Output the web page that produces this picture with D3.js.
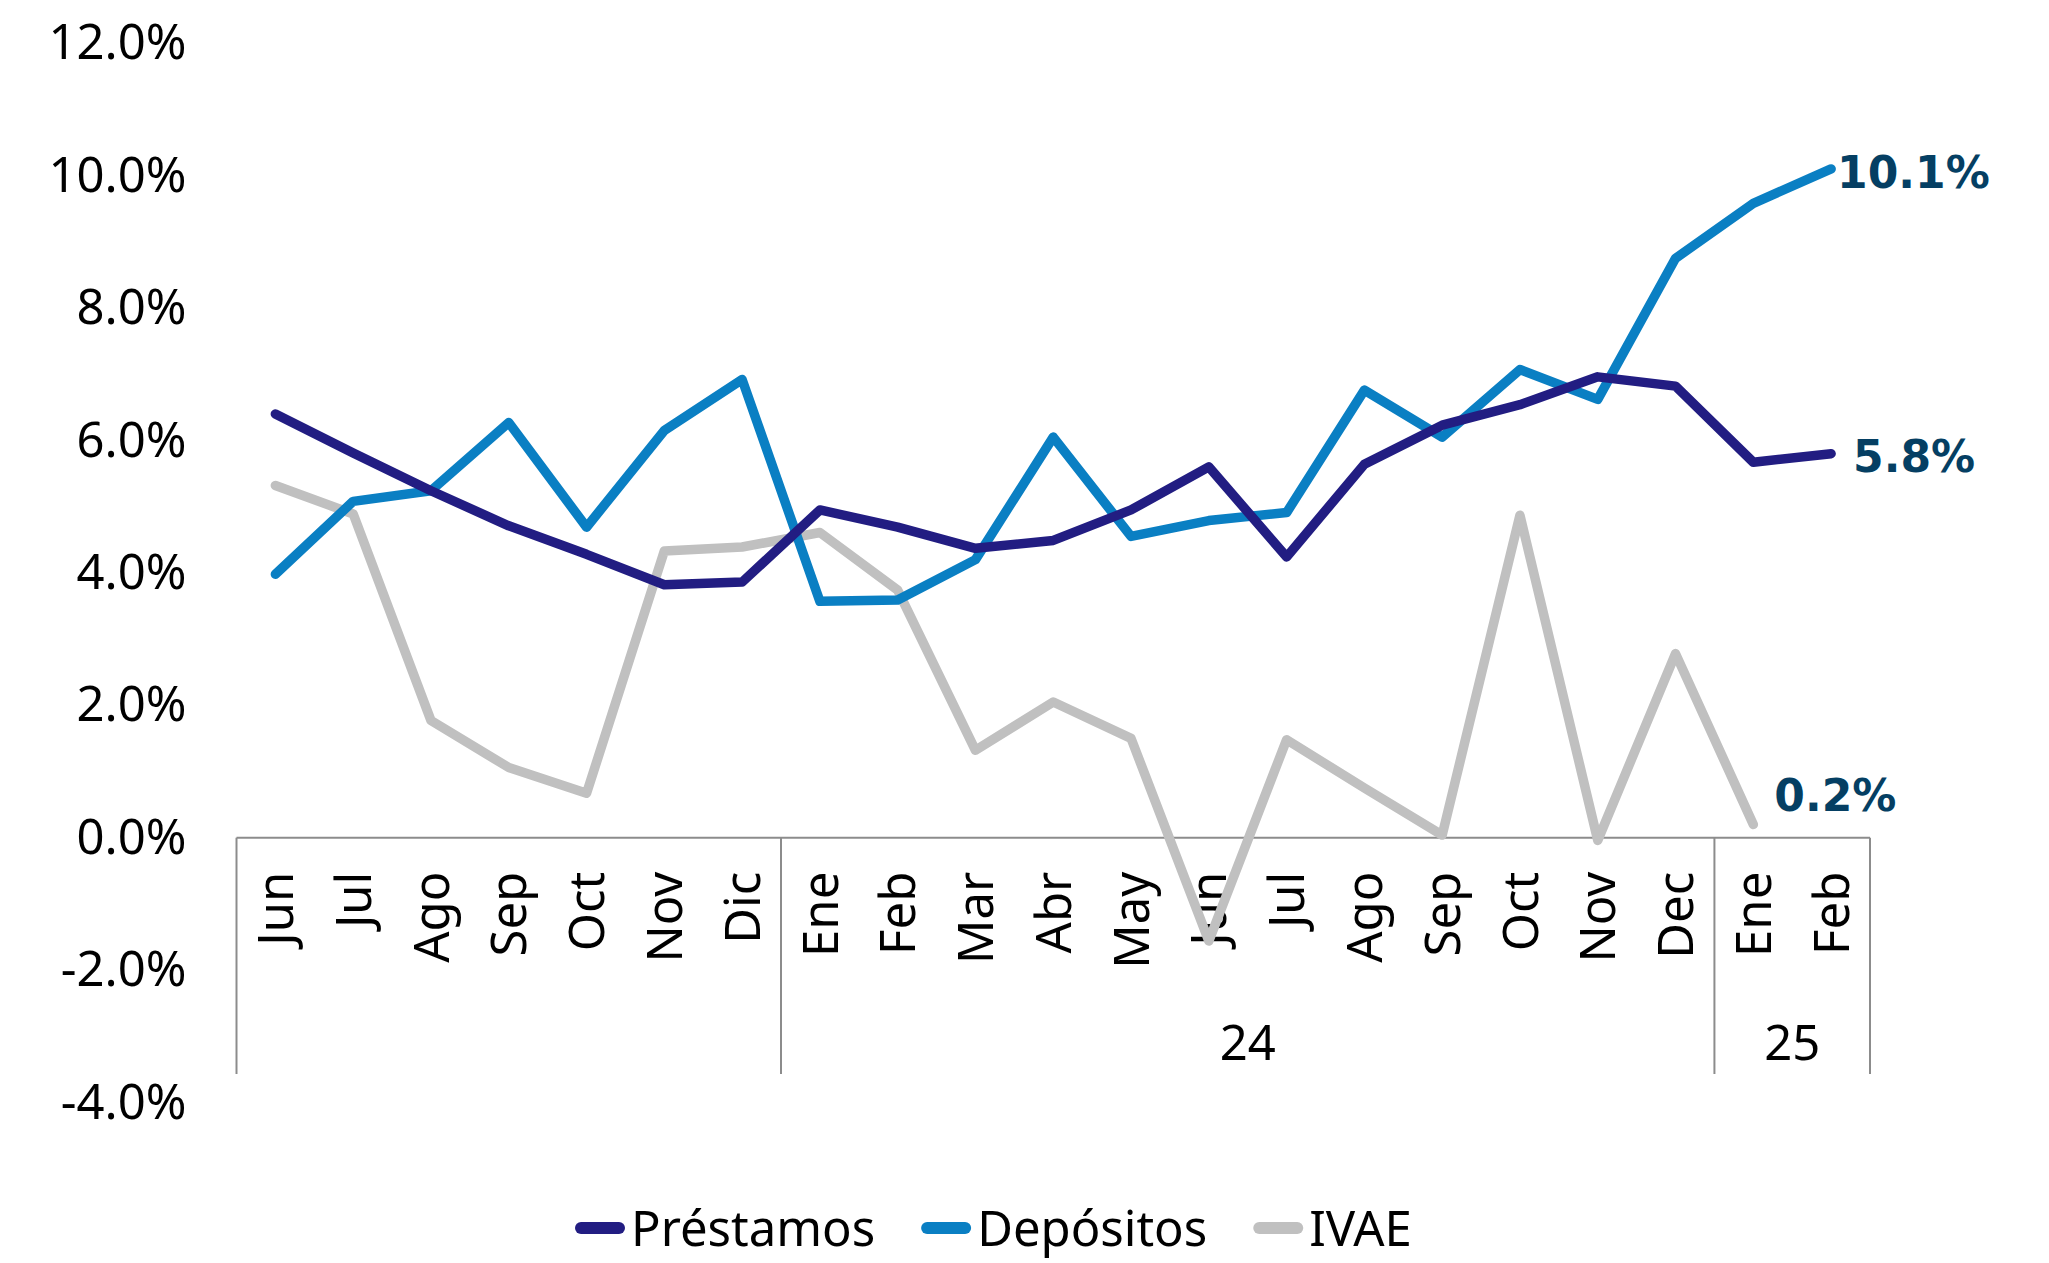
<!DOCTYPE html>
<html>
<head>
<meta charset="utf-8">
<script src="https://cdn.jsdelivr.net/npm/d3@7"></script>
<style>
  html, body { margin: 0; padding: 0; background: #fff; }
  svg text { font-family: "Noto Sans", sans-serif; fill: #000; }
</style>
</head>
<body>
<div id="chart"></div>
<script>
// months, grouped by year (first group has no year label)
var months = ["Jun","Jul","Ago","Sep","Oct","Nov","Dic",
              "Ene","Feb","Mar","Abr","May","Jun","Jul","Ago","Sep","Oct","Nov","Dec",
              "Ene","Feb"];
var yearGroups = [
  {label: "",   size: 7},
  {label: "24", size: 12},
  {label: "25", size: 2}
];

// year-on-year growth, %
var prestamos = [6.40, 5.81, 5.24, 4.71, 4.28, 3.82, 3.86,
                 4.95, 4.69, 4.37, 4.49, 4.95, 5.60, 4.24, 5.64, 6.23, 6.54, 6.96, 6.82,
                 5.67, 5.80];
var depositos = [3.98, 5.08, 5.24, 6.27, 4.69, 6.15, 6.92,
                 3.57, 3.59, 4.20, 6.05, 4.55, 4.79, 4.91, 6.76, 6.05, 7.07, 6.62, 8.75,
                 9.58, 10.10];
var ivae      = [5.32, 4.89, 1.77, 1.06, 0.67, 4.33, 4.39,
                 4.61, 3.74, 1.32, 2.05, 1.50, -1.56, 1.48, 0.75, 0.04, 4.87, -0.04, 2.78,
                 0.20];

var yTicks = [-4, -2, 0, 2, 4, 6, 8, 10, 12];

var W = 2049, H = 1263;
var mLeft = 236.5, mRight = 1870, mTop = 43.1, mBottom = 1102.6;

var svg = d3.select("#chart").append("svg")
  .attr("width", W).attr("height", H);

var idx = months.map(function(d, i) { return i; });
var x = d3.scaleBand().domain(idx).range([mLeft, mRight]).padding(0);
var y = d3.scaleLinear().domain([-4, 12]).range([mBottom, mTop]);
var cx = function(i) { return x(i) + x.bandwidth() / 2; };

// Y axis (labels only)
var yAxis = svg.append("g")
  .attr("transform", "translate(" + mLeft + ",0)")
  .call(d3.axisLeft(y).tickValues(yTicks).tickSize(0).tickPadding(50)
        .tickFormat(function(d) { return d.toFixed(1) + "%"; }));
yAxis.select(".domain").remove();
yAxis.selectAll("text").style("font-size", "49px").style("font-family", "Noto Sans").attr("fill", "#000");

// X axis at zero line
var y0 = y(0);
var sepBottom = 1074;
var xAxis = svg.append("g")
  .attr("transform", "translate(0," + y0 + ")")
  .call(d3.axisBottom(x).tickSize(0).tickFormat(function(i) { return months[i]; }));
xAxis.select(".domain").remove();
xAxis.selectAll("text")
  .attr("transform", "rotate(-90)")
  .attr("text-anchor", "end")
  .attr("x", -34)
  .attr("y", 0)
  .attr("dy", "0.36em")
  .style("font-size", "49px").style("font-family", "Noto Sans").attr("fill", "#000");

svg.append("line")
  .attr("x1", mLeft).attr("x2", mRight).attr("y1", y0).attr("y2", y0)
  .attr("stroke", "#8c8c8c").attr("stroke-width", 2);

// group separators and year labels
var start = 0;
var bounds = [0];
yearGroups.forEach(function(g) {
  var s = start, e = start + g.size;
  svg.append("text")
    .attr("x", (x(s) + x(e - 1) + x.bandwidth()) / 2)
    .attr("y", 1043)
    .attr("dy", "0.35em")
    .attr("text-anchor", "middle")
    .style("font-size", "49px")
    .text(g.label);
  start = e;
  bounds.push(e);
});
bounds.forEach(function(b) {
  var xb = b < months.length ? x(b) : mRight;
  svg.append("line")
    .attr("x1", xb).attr("x2", xb).attr("y1", y0).attr("y2", sepBottom)
    .attr("stroke", "#8c8c8c").attr("stroke-width", 2);
});

// lines
var series = [
  {name: "Préstamos", values: prestamos, color: "#221d82"},
  {name: "Depósitos", values: depositos, color: "#0a7fc3"},
  {name: "IVAE",      values: ivae,      color: "#c0c0c0"}
];
var line = d3.line()
  .x(function(d, i) { return cx(i); })
  .y(function(d) { return y(d); });

// draw IVAE first so the other two sit on top
series.slice().reverse().forEach(function(s) {
  svg.append("path")
    .attr("d", line(s.values))
    .attr("fill", "none")
    .attr("stroke", s.color)
    .attr("stroke-width", 9.5)
    .attr("stroke-linejoin", "round")
    .attr("stroke-linecap", "round");
});

// end labels
var labelOffsets = [
  {dx: 22, dy: 3},   // Préstamos
  {dx: 6,  dy: 3},   // Depósitos
  {dx: 21, dy: -29}  // IVAE
];
series.forEach(function(s, k) {
  var n = s.values.length - 1, v = s.values[n];
  svg.append("text")
    .attr("x", cx(n) + labelOffsets[k].dx)
    .attr("y", y(v) + labelOffsets[k].dy)
    .attr("dy", "0.36em")
    .style("font-family", "DejaVu Sans")
    .style("font-weight", "bold")
    .style("font-size", "44px")
    .style("fill", "#053f63")
    .text(v.toFixed(1) + "%");
});

// legend
var legY = 1228;
var lx = 575;
series.forEach(function(s) {
  svg.append("line")
    .attr("x1", lx + 6).attr("x2", lx + 44).attr("y1", legY).attr("y2", legY)
    .attr("stroke", s.color).attr("stroke-width", 12).attr("stroke-linecap", "round");
  var t = svg.append("text")
    .attr("x", lx + 56).attr("y", legY).attr("dy", "0.36em")
    .style("font-size", "49px")
    .text(s.name);
  lx += 56 + t.node().getComputedTextLength() + 46;
});
</script>
</body>
</html>
